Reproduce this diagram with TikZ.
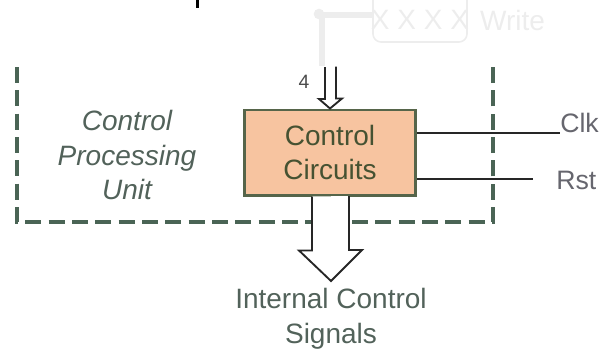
\documentclass[tikz,border=0pt]{standalone}
\usepackage{fontspec}
\setmainfont{Liberation Sans}
\usepackage{tikz}
\usetikzlibrary{positioning}

\definecolor{boxfill}{HTML}{F7C4A0}
\definecolor{boxedge}{HTML}{56654A}
\definecolor{boxtext}{HTML}{465232}
\definecolor{labeltext}{HTML}{52625A}
\definecolor{frameline}{HTML}{4A6455}
\definecolor{pintext}{HTML}{66666E}
\definecolor{ghost}{HTML}{EDEDED}

\begin{document}
\begin{tikzpicture}[x=0.75pt,y=-0.75pt,font=\fontsize{21}{26}\selectfont,
    circuit/.style={draw=boxedge,fill=boxfill,line width=2pt,minimum width=128pt,
      minimum height=64pt,text=boxtext,align=center,inner sep=2pt},
    frame/.style={draw=frameline,line width=2.5pt,dash pattern=on 12pt off 5.5pt},
    bus/.style={draw=black!85,line width=1.4pt,fill=white,line join=miter},
    wire/.style={draw=black!85,line width=1.5pt},
    pin/.style={text=pintext,font=\fontsize{20}{24}\selectfont,inner sep=0pt},
    note/.style={text=labeltext,align=center}]
   \useasboundingbox (0,0) rectangle (605,354);

   % faint leftovers along the top edge
   \fill (196,0) rectangle (199,8);
   \draw[ghost,line width=4.5pt] (322,66) -- (322,15) -- (372,15);
   \fill[ghost] (319,14) circle (4pt);
   \draw[ghost,line width=1.2pt,rounded corners=6pt] (373,-5) -- (373,42) -- (467,42) -- (467,-5);
   \node[ghost,inner sep=0pt] (xs) at (420,20) {X X X X};
   \node[ghost,inner sep=0pt,right=8pt of xs.east,anchor=west] (wr) {Write};

   % control processing unit frame
   \draw[frame] (17,67) -- (17,222) -- (493,222) -- (493,67);
   \node[note,font=\fontsize{21}{26}\selectfont\itshape] (cpu) at (127,155) {Control\\Processing\\Unit};

   \node[circuit] (cc) at (330,152.5) {Control\\Circuits};

   % 4-bit input bus
   \coordinate (busin) at (331,67);
   \draw[bus] (busin) ++(-6,0) -- ++(0,32) -- ++(-6,0) -- (cc.north) -- ++(12,-10)
      -- ++(-6,0) -- ++(0,-32);
   \node[inner sep=0pt,font=\fontsize{14.5}{16}\selectfont,text=black!70] (w) at (304,82) {4};

   % clock and reset
   \node[pin,anchor=west] (clk) at (560,123) {Clk};
   \node[pin,anchor=west] (rst) at (556,180) {Rst};
   \coordinate (clkend) at (560,133);
   \coordinate (rstend) at (533,179);
   \draw[wire] (cc.east |- clkend) -- (clkend);
   \draw[wire] (cc.east |- rstend) -- (rstend);

   % internal control signals
   \coordinate (tip) at (331,281);
   \draw[bus] (cc.south) ++(-18,0) -- ++(0,54) -- ++(-13,0) -- (tip) -- ++(31,-31)
      -- ++(-13,0) -- ++(0,-54);
   \node[note] (ics) at (331,319) {Internal Control\\Signals};
\end{tikzpicture}
\end{document}
